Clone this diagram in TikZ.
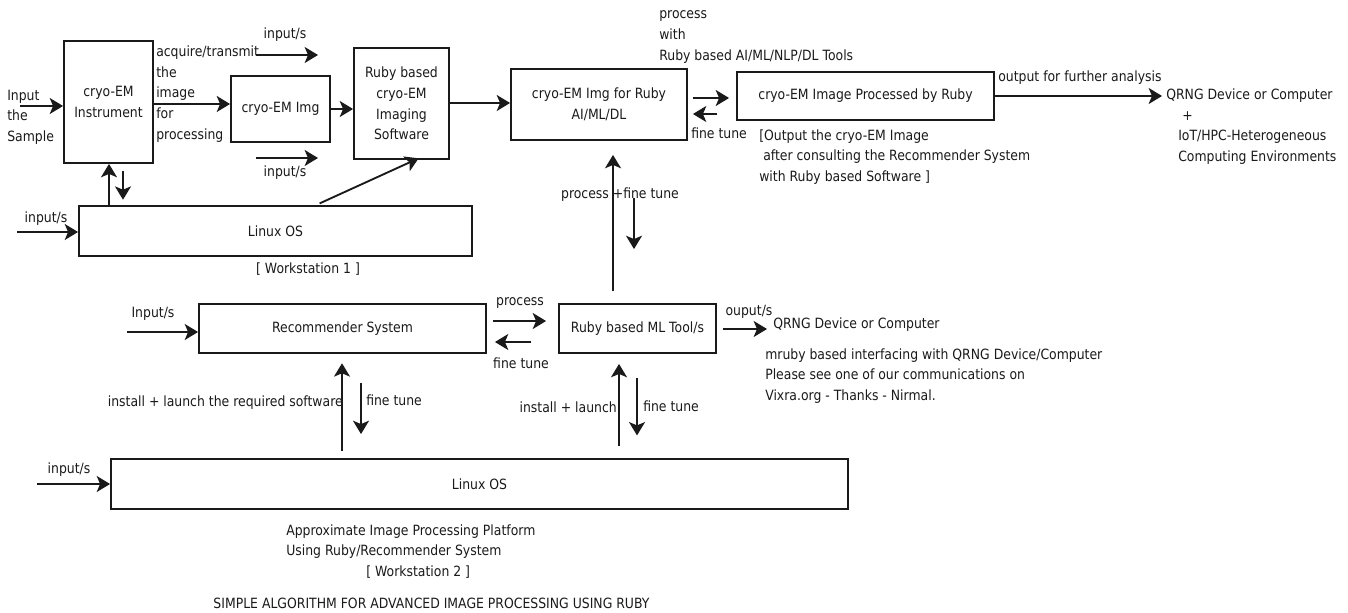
\documentclass[tikz,border=0pt]{standalone}
\usepackage{fontspec}
\setmainfont{DejaVu Sans}[FakeStretch=0.88]
\usepackage{xcolor}
\usepackage{tikz}
\usetikzlibrary{arrows.meta,positioning,calc}
\definecolor{ink}{HTML}{1A1A1A}
\newcommand{\diafont}{\fontsize{10.6}{15.5}\selectfont}
\tikzset{
  box/.style={
    draw=ink,line width=1.4pt,inner sep=0pt,
    align=center,font=\diafont,text=ink
  },
  lbl/.style={inner sep=0pt,align=left,font=\diafont,text=ink},
  arrow/.style={-{Stealth[length=10pt,width=12pt,inset=2.5pt]},draw=ink,line width=1.4pt}
}

\begin{document}
\begin{tikzpicture}[x=0.75pt,y=-0.75pt]
\useasboundingbox (0,0) rectangle (1348,613);

\node[box,minimum width=66.75pt,minimum height=91.5pt] (instrument) at (108.5,102) {cryo-EM\\Instrument};
\node[box,minimum width=74.25pt,minimum height=49.5pt] (img) at (280.5,109) {cryo-EM Img};
\node[box,minimum width=71.25pt,minimum height=83.25pt] (rubysw) at (401.5,103.5)
{Ruby based\\cryo-EM\\Imaging\\Software};
\node[box,minimum width=294.75pt,minimum height=37.5pt] (linuxa) at (275.5,231) {Linux OS};
\node[box,minimum width=132pt,minimum height=53.25pt] (imgai) at (599,104.5)
{cryo-EM Img for Ruby\\AI/ML/DL};
\node[box,minimum width=192.75pt,minimum height=36pt] (processed) at (865.5,96)
{cryo-EM Image Processed by Ruby};
\node[box,minimum width=215.25pt,minimum height=36.75pt] (recsys) at (342.5,328.5) {Recommender System};
\node[box,minimum width=117.75pt,minimum height=36.75pt] (mltool) at (637.5,328.5) {Ruby based ML Tool/s};
\node[box,minimum width=552.75pt,minimum height=37.5pt] (linuxb) at (479.5,484) {Linux OS};

\node[lbl,anchor=west] (sample) at (7,117) {Input\\the\\Sample};
\node[lbl,anchor=west] (acquire) at (156,94) {acquire/transmit\\the\\image\\for\\processing};
\node[lbl] (inpa) at (285,35) {input/s};
\node[lbl] (inpb) at (285,173) {input/s};
\node[lbl] (inpc) at (46,219) {input/s};
\node[lbl] (wsa) at (308,269) {[ Workstation 1 ]};
\node[lbl,anchor=west] (aitools) at (659,37) {process\\with\\Ruby based AI/ML/NLP/DL Tools};
\node[lbl,anchor=west] (ftunea) at (691,133) {fine tune};
\node[lbl,anchor=west] (outnote) at (759,157)
{[Output the cryo-EM Image\\\hspace*{3pt}after consulting the Recommender System\\with Ruby based Software ]};
\node[lbl,anchor=west] (further) at (998,78) {output for further analysis};
\node[lbl,anchor=west] (qrnga) at (1166,126.5)
{QRNG Device or Computer\\\hspace*{12pt}+\\\hspace*{9pt}IoT/HPC-Heterogeneous\\\hspace*{9pt}Computing Environments};
\node[lbl] (pftune) at (620,195) {process +fine tune};
\node[lbl] (inpd) at (153,314) {Input/s};
\node[lbl] (proc) at (520,303) {process};
\node[lbl] (ftuneb) at (521,363) {fine tune};
\node[lbl] (ouput) at (749,312) {ouput/s};
\node[lbl,anchor=west] (qrngb) at (773,325) {QRNG Device or Computer};
\node[lbl,anchor=west] (mruby) at (765,376)
{mruby based interfacing with QRNG Device/Computer\\Please see one of our communications on\\Vixra.org - Thanks - Nirmal.};
\node[lbl,anchor=east] (installa) at (343,403) {install + launch the required software};
\node[lbl,anchor=west] (ftunec) at (366,400) {fine tune};
\node[lbl,anchor=east] (installb) at (617,407) {install + launch};
\node[lbl,anchor=west] (ftuned) at (643,406) {fine tune};
\node[lbl] (inpe) at (69,470) {input/s};
\node[lbl,anchor=west] (platform) at (286,551.5)
{Approximate Image Processing Platform\\Using Ruby/Recommender System\\\hspace*{60pt}[ Workstation 2 ]};
\node[lbl] (title) at (431.5,603) {SIMPLE ALGORITHM FOR ADVANCED IMAGE PROCESSING USING RUBY};

\coordinate (sampleIn) at (20,106);
\coordinate (inpaS) at (256,55);
\coordinate (inpaE) at (318,55);
\coordinate (inpbS) at (256,158);
\coordinate (inpbE) at (318,158);
\coordinate (inpcS) at (17,232);
\coordinate (inpdS) at (127,332);
\coordinate (inpeS) at (37,484);

\draw[arrow] (sampleIn) -- (sampleIn -| instrument.west);
\draw[arrow] (instrument.east |- 0,104) -- (img.west |- 0,104);
\draw[arrow] (img.east) -- (img.east -| rubysw.west);
\draw[arrow] (inpaS) -- (inpaE);
\draw[arrow] (inpbS) -- (inpbE);
\draw[arrow] (109,0 |- linuxa.north) -- (109,0 |- instrument.south);
\draw[arrow,shorten <=5pt,shorten >=4pt] (123,0 |- instrument.south) -- (123,0 |- linuxa.north);
\draw[arrow] (inpcS) -- (inpcS -| linuxa.west);
\draw[arrow,shorten <=3pt,shorten >=-3pt] (316,0 |- linuxa.north) -- (415,0 |- rubysw.south);
\draw[arrow] (rubysw.east |- 0,103) -- (imgai.west |- 0,103);
\draw[arrow,shorten <=3.75pt,shorten >=5.25pt] (imgai.east |- 0,98) -- (processed.west |- 0,98);
\draw[arrow,shorten <=14pt,shorten >=3.75pt] (processed.west |- 0,114) -- (imgai.east |- 0,114);
\draw[arrow,shorten >=3pt] (processed.east) -- (processed.east -| qrnga.west);
\draw[arrow,shorten <=9pt,shorten >=10.5pt] (613,0 |- mltool.north) -- (613,0 |- imgai.south);
\draw[arrow,shorten <=42.75pt,shorten >=40.5pt] (634,0 |- imgai.south) -- (634,0 |- mltool.north);
\draw[arrow] (inpdS) -- (inpdS -| recsys.west);
\draw[arrow,shorten <=4.5pt,shorten >=9pt] (recsys.east |- 0,321) -- (mltool.west |- 0,321);
\draw[arrow,shorten <=20pt,shorten >=6pt] (mltool.west |- 0,342) -- (recsys.east |- 0,342);
\draw[arrow,shorten <=4.5pt,shorten >=4.5pt] (mltool.east |- 0,329) -- (qrngb.west |- 0,329);
\draw[arrow,shorten <=5pt,shorten >=7pt] (342,0 |- linuxb.north) -- (342,0 |- recsys.south);
\draw[arrow,shorten <=22pt,shorten >=18pt] (361,0 |- recsys.south) -- (361,0 |- linuxb.north);
\draw[arrow,shorten <=9pt,shorten >=7.5pt] (619,0 |- linuxb.north) -- (619,0 |- mltool.south);
\draw[arrow,shorten <=18pt,shorten >=17pt] (637,0 |- mltool.south) -- (637,0 |- linuxb.north);
\draw[arrow] (inpeS) -- (inpeS -| linuxb.west);
\end{tikzpicture}
\end{document}
